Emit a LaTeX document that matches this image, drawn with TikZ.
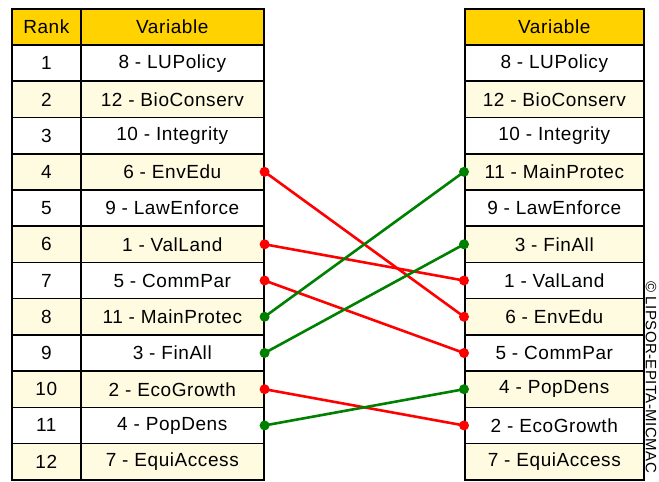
\documentclass[tikz,border=0pt]{standalone}
\usepackage{fontspec}
\setmainfont{Liberation Sans}[LetterSpace=3]
\definecolor{gold}{HTML}{FFD200}
\definecolor{paleyellow}{HTML}{FFFBE1}
\definecolor{lred}{HTML}{FF0000}
\definecolor{lgreen}{HTML}{008000}
\begin{document}
\begin{tikzpicture}[x=1pt,y=-1pt,
 cell/.style={draw=black, line width=1.6pt, minimum height=36.23pt, inner sep=0pt,
   font=\fontsize{19}{19}\selectfont, anchor=north west},
 rk/.style={cell, minimum width=69pt},
 var/.style={cell, minimum width=183pt},
 rvar/.style={cell, minimum width=179pt},
 lnk/.style={line width=2.6pt, line cap=round},
 dotr/.style={circle, fill=lred, inner sep=0pt, minimum size=10pt},
 dotg/.style={circle, fill=lgreen, inner sep=0pt, minimum size=10pt}
]
\useasboundingbox (0,0) rectangle (659,482);
% headers
\node[rk, fill=gold] (LH0) at (11,8) {Rank};
\node[var, fill=gold] (LH1) at (80,8) {Variable};
\node[rvar, fill=gold] (RH) at (464,8) {Variable};
% rows
\foreach \i/\rf/\lv/\rv in {
 1/white/8 - LUPolicy/8 - LUPolicy,
 2/paleyellow/12 - BioConserv/12 - BioConserv,
 3/white/10 - Integrity/10 - Integrity,
 4/paleyellow/6 - EnvEdu/11 - MainProtec,
 5/white/9 - LawEnforce/9 - LawEnforce,
 6/paleyellow/1 - ValLand/3 - FinAll,
 7/white/5 - CommPar/1 - ValLand,
 8/paleyellow/11 - MainProtec/6 - EnvEdu,
 9/white/3 - FinAll/5 - CommPar,
 10/paleyellow/2 - EcoGrowth/4 - PopDens,
 11/white/4 - PopDens/2 - EcoGrowth,
 12/paleyellow/7 - EquiAccess/7 - EquiAccess}{
 \node[rk, fill=\rf] (K\i) at (11,{8+36.23*\i}) {\i};
 \node[var, fill=\rf] (L\i) at (80,{8+36.23*\i}) {\lv};
 \node[rvar, fill=\rf] (R\i) at (464,{8+36.23*\i}) {\rv};
}
% links
\draw[lnk, lred] (L4.east) -- (R8.west);
\draw[lnk, lred] (L6.east) -- (R7.west);
\draw[lnk, lred] (L7.east) -- (R9.west);
\draw[lnk, lgreen] (L8.east) -- (R4.west);
\draw[lnk, lgreen] (L9.east) -- (R6.west);
\draw[lnk, lred] (L10.east) -- (R11.west);
\draw[lnk, lgreen] (L11.east) -- (R10.west);
% dots
\foreach \n in {L4,L6,L7,L10} \node[dotr] at (\n.east) {};
\foreach \n in {R7,R8,R9,R11} \node[dotr] at (\n.west) {};
\foreach \n in {L8,L9,L11} \node[dotg] at (\n.east) {};
\foreach \n in {R4,R6,R10} \node[dotg] at (\n.west) {};
% copyright
\node[rotate=-90, font=\fontsize{15}{15}\selectfont, inner sep=0pt] (copy) at (651,377) {© LIPSOR-EPITA-MICMAC};
\end{tikzpicture}
\end{document}
